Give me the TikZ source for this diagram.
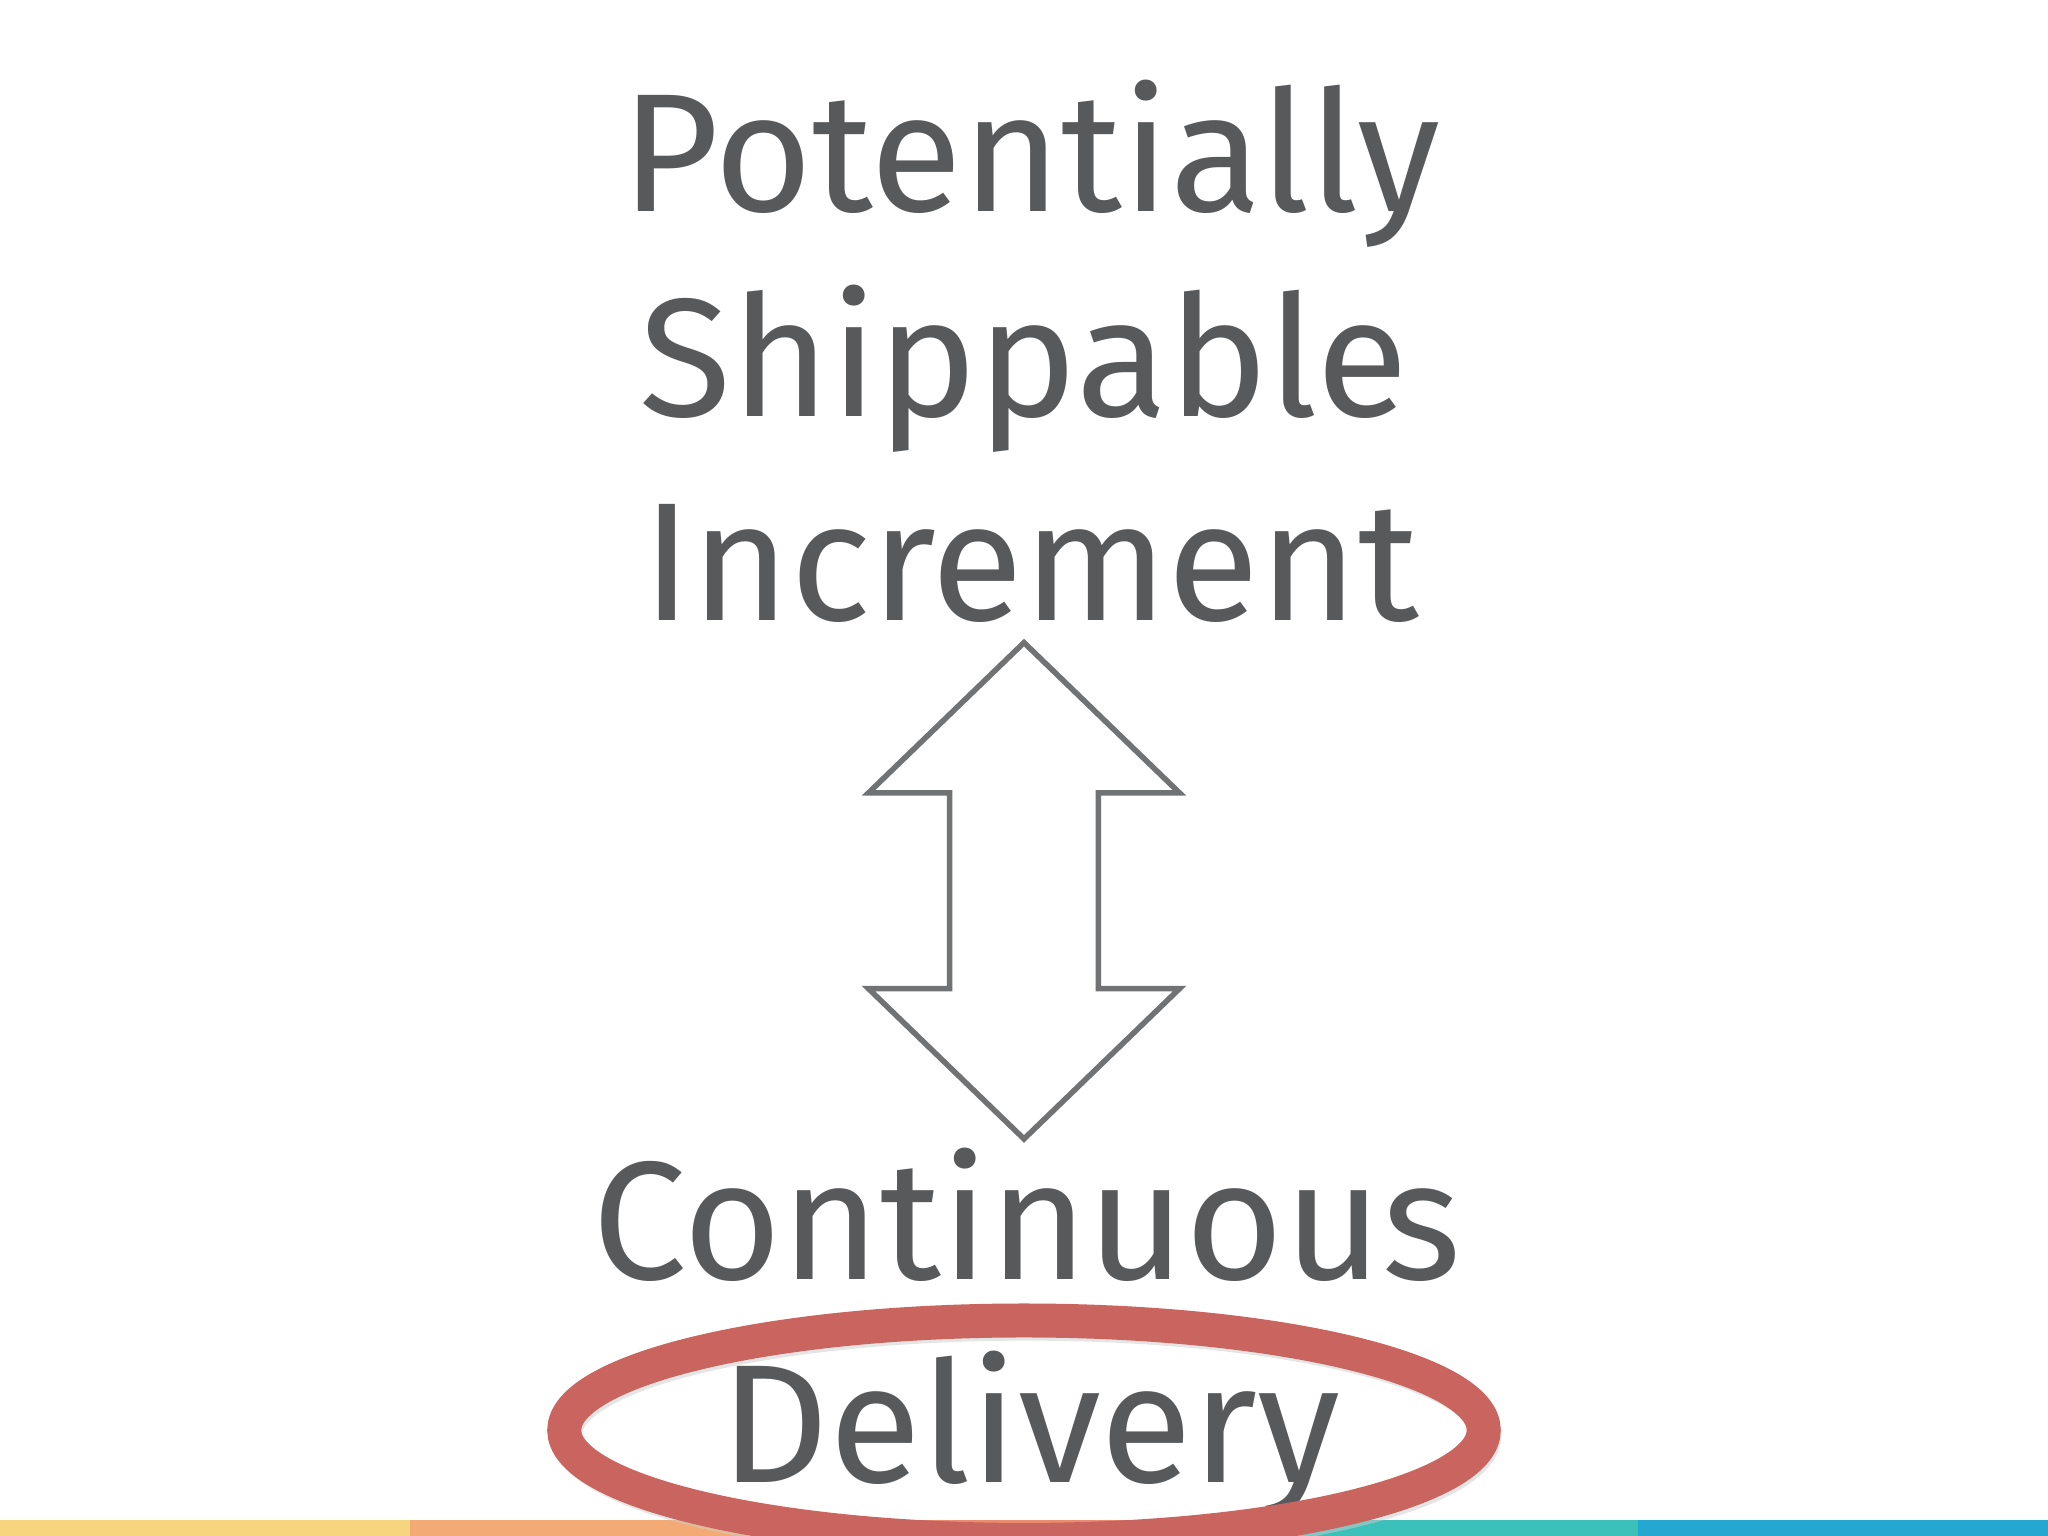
\documentclass[tikz,border=0pt]{standalone}
\usepackage{fontspec}
\setmainfont{Fira Sans}
\definecolor{txt}{HTML}{58595B}
\definecolor{ell}{HTML}{C9655E}
\begin{document}
\begin{tikzpicture}[x=0.01cm,y=-0.01cm,
  lbl/.style={anchor=base,text=txt,font=\fontsize{36.7}{44}\selectfont,inner sep=0pt}]
\useasboundingbox (0,0) rectangle (1568,1176);
\fill[white] (0,0) rectangle (1568,1176);
\fill[fill={rgb,255:red,247;green,213;blue,126}] (0,1164) rectangle (314,1176);
\fill[fill={rgb,255:red,243;green,170;blue,116}] (314,1164) rectangle (627,1176);
\fill[fill={rgb,255:red,236;green,140;blue,110}] (627,1164) rectangle (941,1176);
\fill[fill={rgb,255:red,60;green,192;blue,186}] (941,1164) rectangle (1254,1176);
\fill[fill={rgb,255:red,36;green,168;blue,210}] (1254,1164) rectangle (1568,1176);
\node[lbl] (l1) at (789,162) {Potentially};
\node[lbl] (l2) at (784,319) {Shippable};
\node[lbl] (l3) at (789,475) {Increment};
\node[lbl] (l4) at (786,980) {Continuous};
\node[lbl] (l5) at (789,1135) {Delivery};
\draw[txt!85,line width=1.2pt,line join=miter]
  (784,492) -- (903,607) -- (841,607) -- (841,757) -- (903,757) -- (784,872)
  -- (665,757) -- (727,757) -- (727,607) -- (665,607) -- cycle;
\draw[gray!40,line width=6.5pt,opacity=0.5] (786,1099) ellipse [x radius=352,y radius=84];
\draw[ell,line width=7.4pt] (784,1095) ellipse [x radius=352,y radius=84];
\end{tikzpicture}
\end{document}
